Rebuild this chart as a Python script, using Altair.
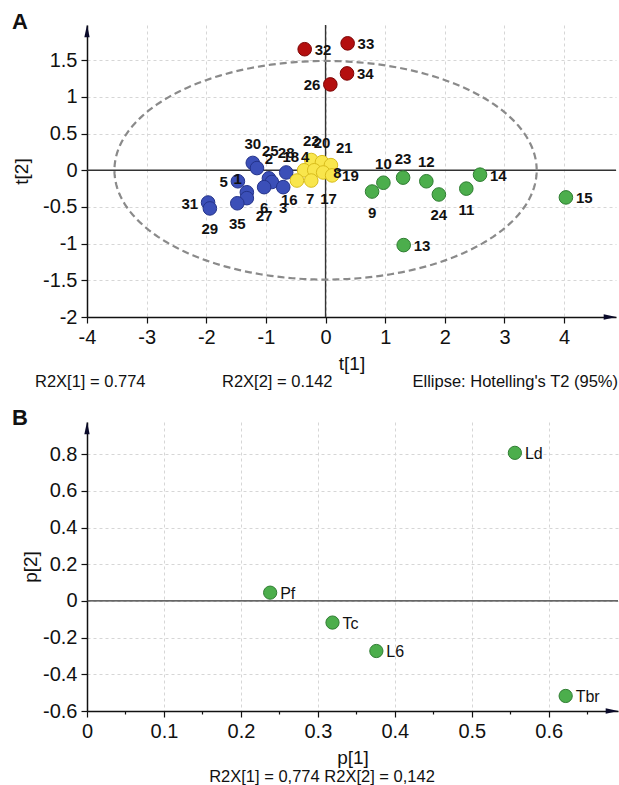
import numpy as np
import pandas as pd
import altair as alt

# ---------------- Panel A : score plot ----------------
score_ids = ["32", "33", "34", "26",
             "9", "10", "23", "12", "24", "11", "14", "15", "13",
             "30", "25", "2", "16", "28", "5", "1", "27", "35", "6", "3", "31", "29",
             "22", "20", "21", "18", "4", "8", "19", "7", "17"]
score_group = (["red"] * 4 + ["green"] * 9 + ["blue"] * 13 + ["yellow"] * 9)
t1 = [-0.35, 0.37, 0.36, 0.08,
      0.78, 0.97, 1.30, 1.69, 1.90, 2.36, 2.59, 4.03, 1.31,
      -1.22, -1.15, -0.95, -0.90, -0.66, -1.47, -1.32, -1.32, -1.48, -1.03, -0.71, -1.97, -1.94,
      -0.24, -0.06, 0.09, -0.36, -0.19, -0.04, 0.11, -0.48, -0.24]
t2 = [1.65, 1.73, 1.32, 1.17,
      -0.29, -0.17, -0.10, -0.15, -0.33, -0.25, -0.06, -0.37, -1.02,
      0.10, 0.03, -0.11, -0.16, -0.03, -0.15, -0.30, -0.38, -0.45, -0.23, -0.23, -0.44, -0.52,
      0.14, 0.11, 0.07, 0.00, 0.00, -0.03, -0.07, -0.14, -0.14]
# where each point's label sits (style only)
label_side = ["r", "r", "r", "l",
              "b", "t", "t", "t", "b", "b", "r", "r", "r",
              "t", "tr", "t", "br", "t", "l", "tl", "br", "b", "b", "b", "l", "b",
              "t", "t", "tr", "tl", "tl", "r", "r", "br", "br"]

ellipse_a = 3.54   # Hotelling's T2 (95%) semi-axes
ellipse_b = 1.49

tA_x_ticks = [-4, -3.5, -3, -2.5, -2, -1.5, -1, -0.5, 0, 0.5, 1, 1.5, 2, 2.5, 3, 3.5, 4, 4.5]
tA_y_ticks = [-2, -1.75, -1.5, -1.25, -1, -0.75, -0.5, -0.25, 0, 0.25, 0.5, 0.75,
              1, 1.25, 1.5, 1.75]
footer_A = ["R2X[1] = 0.774", "R2X[2] = 0.142", "Ellipse: Hotelling's T2 (95%)"]

# ---------------- Panel B : loading plot ----------------
load_ids = ["Ld", "Pf", "Tc", "L6", "Tbr"]
p1 = [0.556, 0.238, 0.319, 0.376, 0.622]
p2 = [0.807, 0.045, -0.118, -0.273, -0.518]

tB_x_ticks = [0, 0.05, 0.1, 0.15, 0.2, 0.25, 0.3, 0.35, 0.4, 0.45, 0.5, 0.55, 0.6, 0.65]
tB_y_ticks = [-0.6, -0.5, -0.4, -0.3, -0.2, -0.1, 0, 0.1, 0.2, 0.3, 0.4, 0.5, 0.6, 0.7, 0.8, 0.9]
footer_B = "R2X[1] = 0,774 R2X[2] = 0,142"

# ---------------- styling ----------------
FONT = "Liberation Sans"
group_dom = ["red", "green", "blue", "yellow"]
fill_rng = ["#b40f0f", "#4cae4c", "#3b4fb8", "#f9e64c"]
stroke_rng = ["#7d0606", "#2f7d32", "#24338a", "#d9bd1c"]

WA, HA = 529, 292
WB, HB = 531, 289

scores = pd.DataFrame({"id": score_ids, "group": score_group, "t1": t1, "t2": t2,
                       "side": label_side})
loads = pd.DataFrame({"id": load_ids, "p1": p1, "p2": p2})

th = np.linspace(0, 2 * np.pi, 241)
ell = pd.DataFrame({"ex": ellipse_a * np.cos(th), "ey": ellipse_b * np.sin(th),
                    "o": np.arange(len(th))})


def axis_def(title, vals, mult, orient, title_pad):
    test = f"abs(round(datum.value*{mult}) % 2) == 0"
    return alt.Axis(
        title=title, orient=orient, values=vals,
        labelExpr=f"{test} ? '' + datum.value : ''",
        tickSize={"condition": {"test": test, "value": 6}, "value": 3},
        gridOpacity={"condition": {"test": test, "value": 1}, "value": 0},
        labelFlush=False, labelOverlap=False, titlePadding=title_pad,
    )


xA = alt.X("t1:Q", scale=alt.Scale(domain=[-4, 4.87], nice=False, zero=False),
           axis=axis_def("t[1]", tA_x_ticks, 2, "bottom", 7))
yA = alt.Y("t2:Q", scale=alt.Scale(domain=[-2, 1.98], nice=False, zero=False),
           axis=axis_def("t[2]", tA_y_ticks, 4, "left", 11))

base_A = alt.Chart(scores)
pointsA = base_A.mark_circle(size=185, opacity=1, strokeWidth=1).encode(
    x=xA, y=yA,
    fill=alt.Fill("group:N", scale=alt.Scale(domain=group_dom, range=fill_rng), legend=None),
    stroke=alt.Stroke("group:N", scale=alt.Scale(domain=group_dom, range=stroke_rng), legend=None),
)

sides = {
    "r": dict(align="left", dx=10, dy=1),
    "l": dict(align="right", dx=-10, dy=1),
    "t": dict(align="center", dx=0, dy=-19),
    "b": dict(align="center", dx=0, dy=21),
    "tr": dict(align="left", dx=5, dy=-17),
    "tl": dict(align="right", dx=-5, dy=-13),
    "br": dict(align="left", dx=9, dy=18),
}
label_layers = []
for s, kw in sides.items():
    label_layers.append(
        base_A.transform_filter(alt.datum.side == s).mark_text(
            font=FONT, fontSize=15, fontWeight="bold", color="#111", baseline="middle", **kw
        ).encode(x="t1:Q", y="t2:Q", text="id:N")
    )

zeroA_h = alt.Chart(pd.DataFrame({"z": [0]})).mark_rule(color="#333", strokeWidth=1.4).encode(y="z:Q")
zeroA_v = alt.Chart(pd.DataFrame({"z": [0]})).mark_rule(color="#333", strokeWidth=1.4).encode(x="z:Q")
ellipse = alt.Chart(ell).mark_line(color="#8a8a8a", strokeWidth=2.2, strokeDash=[7, 4]).encode(
    x="ex:Q", y="ey:Q", order="o:Q")

one = pd.DataFrame({"k": [0]})
ARROW_UP = "M0,-1L0.42,1L-0.42,1Z"
ARROW_RIGHT = "M1,0L-1,0.42L-1,-0.42Z"


def arrows(w, h):
    up = alt.Chart(one).mark_point(shape=ARROW_UP, filled=True, color="#0a0a2a", size=160,
                                   opacity=1).encode(x=alt.value(0), y=alt.value(6))
    right = alt.Chart(one).mark_point(shape=ARROW_RIGHT, filled=True, color="#0a0a2a", size=160,
                                      opacity=1).encode(x=alt.value(w - 6), y=alt.value(h))
    return [up, right]


def text_at(txt, x, y, size=16.5, weight="normal", align="left"):
    return alt.Chart(pd.DataFrame({"s": [txt]})).mark_text(
        font=FONT, fontSize=size, fontWeight=weight, align=align, baseline="middle", color="#111"
    ).encode(text="s:N", x=alt.value(x), y=alt.value(y))


panelA = alt.layer(
    zeroA_h, zeroA_v, ellipse, pointsA, *label_layers, *arrows(WA, HA),
    text_at("A", -75, -3, size=22, weight="bold"),
    text_at(footer_A[0], -52, HA + 65),
    text_at(footer_A[1], 135, HA + 65),
    text_at(footer_A[2], 531, HA + 65, align="right"),
).properties(width=WA, height=HA)

# ---------------- Panel B ----------------
xB = alt.X("p1:Q", scale=alt.Scale(domain=[0, 0.69], nice=False, zero=False),
           axis=axis_def("p[1]", tB_x_ticks, 20, "bottom", 7))
yB = alt.Y("p2:Q", scale=alt.Scale(domain=[-0.6, 0.975], nice=False, zero=False),
           axis=axis_def("p[2]", tB_y_ticks, 10, "left", 2))

pointsB = alt.Chart(loads).mark_circle(size=175, opacity=1, fill="#4cae4c", stroke="#2f7d32",
                                       strokeWidth=1).encode(x=xB, y=yB)
labelsB = alt.Chart(loads).mark_text(font=FONT, fontSize=16, align="left", dx=10, dy=1,
                                     baseline="middle", color="#111").encode(
    x="p1:Q", y="p2:Q", text="id:N")
zeroB = alt.Chart(pd.DataFrame({"z": [0]})).mark_rule(color="#333", strokeWidth=1.4).encode(y="z:Q")

panelB = alt.layer(
    zeroB, pointsB, labelsB, *arrows(WB, HB),
    text_at("B", -75, -4, size=22, weight="bold"),
    text_at(footer_B, 235, HB + 66, align="center"),
).properties(width=WB, height=HB)

chart = alt.vconcat(panelA, panelB, spacing=16).properties(
    padding={"left": 12, "top": 11, "right": 0, "bottom": 0}
).configure_view(stroke=None).configure_axis(
    labelFont=FONT, labelFontSize=20, labelColor="#111", labelPadding=4,
    titleFont=FONT, titleFontSize=19, titleFontWeight="normal", titleColor="#111",
    domainColor="#111", domainWidth=1.5, tickColor="#111", tickWidth=1.2,
    gridColor="#d6d6d6", gridDash=[3, 3], gridWidth=1,
)

chart.save("out.html", embed_options={"renderer": "svg", "actions": False})
